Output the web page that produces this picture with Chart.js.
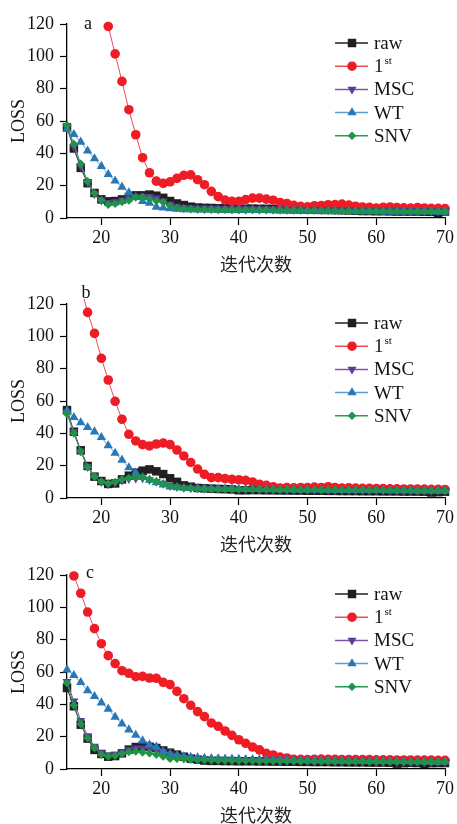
<!DOCTYPE html>
<html>
<head>
<meta charset="utf-8">
<script src="https://cdn.jsdelivr.net/npm/chart.js@4/dist/chart.umd.min.js"></script>
<style>
  html, body { margin: 0; padding: 0; background: #fff; }
  #page { position: relative; width: 457px; height: 824px; overflow: hidden; }
  .panel { position: absolute; left: 0; width: 457px; height: 275px; }
</style>
</head>
<body>
<div id="page">
  <div class="panel" style="top:0px"><canvas id="chartA" width="457" height="275"></canvas></div>
  <div class="panel" style="top:280px"><canvas id="chartB" width="457" height="275"></canvas></div>
  <div class="panel" style="top:551px"><canvas id="chartC" width="457" height="275"></canvas></div>
</div>
<script>
"use strict";

// iterations on the x axis
let epochs = [15, 16, 17, 18, 19, 20, 21, 22, 23, 24,
  25, 26, 27, 28, 29, 30, 31, 32, 33, 34,
  35, 36, 37, 38, 39, 40, 41, 42, 43, 44,
  45, 46, 47, 48, 49, 50, 51, 52, 53, 54,
  55, 56, 57, 58, 59, 60, 61, 62, 63, 64,
  65, 66, 67, 68, 69, 70];
let seriesNames = ["raw", "1st", "MSC", "WT", "SNV"];
let xTicks = [20, 30, 40, 50, 60, 70];
let yTicks = [0, 20, 40, 60, 80, 100, 120];

// panel a
let rawA = [56, 43, 31, 21.5, 15.5, 11.5, 10.3, 10.5, 11.5, 13,
  14, 14, 14.5, 13.8, 12.5, 10.5, 9, 8, 7, 6.5,
  6.3, 6.2, 6, 6, 6, 5.8, 5.8, 5.8, 5.7, 5.7,
  5.6, 5.5, 5.5, 5.4, 5.3, 5.2, 5.1, 5, 5, 4.9,
  4.8, 4.7, 4.5, 4.3, 4.3, 4.2, 4.2, 4.1, 4, 4,
  4, 4, 3.9, 3.8, 3.2, 4];
let firstA = [null, null, null, null, null, null, 118.5, 101.5, 84.5, 67,
  51.5, 37.3, 28, 22.8, 21.4, 22.4, 24.5, 26.4, 26.7, 23.7,
  20.6, 16.5, 13.2, 11.1, 10.3, 10.3, 11.4, 12.3, 12.3, 11.7,
  11, 9.6, 9, 7.8, 7.2, 6.9, 7.6, 7.7, 8.2, 8.3,
  8.6, 8, 7.3, 6.8, 6.6, 6.2, 6.6, 6.8, 6.5, 6.3,
  6.1, 6.5, 6.2, 6, 6, 5.8];
let mscA = [56, 44, 32, 22, 15, 11, 9.5, 10, 11, 12.5,
  13.2, 13.4, 13.2, 12.3, 10.5, 8.5, 7.2, 6.5, 6.2, 6,
  6, 5.9, 5.8, 5.8, 5.7, 5.7, 5.6, 5.6, 5.5, 5.5,
  5.5, 5.4, 5.4, 5.3, 5.3, 5.2, 5.2, 5.1, 5.1, 5,
  5, 5, 4.9, 4.9, 4.8, 4.8, 4.8, 4.7, 4.7, 4.7,
  4.6, 4.6, 4.6, 4.5, 4.5, 4.5];
let wtA = [55, 51.7, 47, 41.5, 36.7, 32, 27, 23, 19.2, 15.7,
  12.8, 10.4, 9.2, 6.8, 6.3, 5.8, 5.5, 5.3, 5.2, 5.1,
  5, 5, 5, 4.9, 4.9, 4.9, 4.8, 4.8, 4.8, 4.7,
  4.7, 4.6, 4.6, 4.5, 4.5, 4.4, 4.4, 4.3, 4.2, 4.2,
  4.1, 4.1, 4, 4, 4, 4, 3.9, 3.9, 3.9, 3.9,
  3.8, 3.8, 3.8, 3.8, 3.7, 3.7];
let snvA = [57.3, 45.8, 33.5, 22.7, 15.3, 11, 8.3, 8.8, 10, 10.9,
  12.8, 13, 11.8, 10.5, 9.8, 7.6, 6.2, 5.8, 5.5, 5.3,
  5.2, 5.1, 5, 5.1, 5, 5, 4.9, 5, 4.9, 4.9,
  4.8, 4.8, 4.7, 4.7, 4.7, 4.6, 4.6, 4.6, 4.5, 4.5,
  4.4, 4.4, 4.4, 4.4, 4.3, 4.3, 4.3, 4.3, 4.2, 4.2,
  4.2, 4.2, 4.1, 4.1, 4.1, 4.1];

// panel b
let rawB = [54.4, 41, 29.5, 19.8, 13.2, 10.5, 8.7, 9, 11.5, 13.8,
  15.7, 16.9, 17.7, 16.5, 14.8, 12.2, 10, 7.8, 7, 6.2,
  6, 5.8, 5.6, 5.5, 5.3, 4.8, 4.8, 4.9, 4.9, 4.8,
  4.8, 4.7, 4.7, 4.6, 4.6, 4.5, 4.5, 4.5, 4.4, 4.4,
  4.3, 4.3, 4.3, 4.2, 4.2, 4.2, 4.1, 4.1, 4.1, 4,
  4, 4, 3.9, 3.4, 3.6, 3.9];
let firstB = [null, null, 131, 114.8, 101.8, 86.4, 73, 59.8, 48.7, 39.4,
  35.3, 33, 32.2, 33.4, 34, 33, 29.7, 26, 22, 17.9,
  14.6, 12.6, 12.6, 12, 11.5, 11.3, 10.9, 9.9, 8.5, 7.8,
  7, 6.2, 6.5, 6.3, 6.5, 6.4, 6.7, 6.5, 7, 6.4,
  6.2, 6.3, 6.1, 6, 6, 5.9, 5.8, 5.7, 5.7, 5.6,
  5.6, 5.5, 5.5, 5.4, 5.4, 5.3];
let mscB = [53, 41, 29, 19.5, 13.5, 10, 8.7, 9.5, 11, 11.8,
  12.2, 12.3, 11.3, 10.2, 9, 7.6, 7, 6.5, 6.2, 6,
  5.9, 5.8, 5.7, 5.6, 5.6, 5.5, 5.5, 5.4, 5.4, 5.3,
  5.3, 5.2, 5.2, 5.1, 5.1, 5.1, 5, 5, 5, 4.9,
  4.9, 4.9, 4.8, 4.8, 4.8, 4.7, 4.7, 4.7, 4.6, 4.6,
  4.6, 4.6, 4.5, 4.5, 4.5, 4.5];
let wtB = [54, 49.9, 46.6, 43.7, 41, 37.5, 32.4, 27.8, 23.5, 18.8,
  15.7, 12.8, 11.1, 9.5, 8.2, 7, 6.4, 6.1, 6, 5.9,
  5.8, 5.7, 5.7, 5.6, 5.6, 5.5, 5.5, 5.4, 5.4, 5.3,
  5.3, 5.2, 5.2, 5.1, 5.1, 5, 5, 5, 4.9, 4.9,
  4.9, 4.8, 4.8, 4.8, 4.7, 4.7, 4.7, 4.6, 4.6, 4.6,
  4.6, 4.5, 4.5, 4.5, 4.5, 4.4];
let snvB = [52, 40, 28.7, 19, 13.2, 10.1, 9, 9.9, 11.5, 12.4,
  13.2, 12.8, 11.5, 10.3, 9, 7.4, 7, 6.2, 6, 5.8,
  5.7, 5.6, 5.5, 5.5, 5.5, 5.4, 5.5, 5.4, 5.3, 5.3,
  5.3, 5.2, 5.2, 5.2, 5.1, 5.1, 5.1, 5, 5, 5,
  4.9, 4.9, 4.9, 4.9, 4.8, 4.8, 4.8, 4.8, 4.7, 4.7,
  4.7, 4.7, 4.6, 4.6, 4.6, 4.6];

// panel c
let rawC = [50.1, 38.8, 27.4, 18.8, 11.8, 9.3, 7.6, 8, 9.7, 12,
  13.6, 14.4, 13.8, 13, 11.5, 10.1, 8.9, 7.6, 6.4, 5.8,
  5.2, 5, 5, 4.9, 4.9, 4.8, 4.8, 4.8, 4.7, 4.7,
  4.6, 4.6, 4.5, 4.5, 4.4, 4.4, 4.3, 4.3, 4.3, 4.2,
  4.2, 4.1, 4.1, 4.1, 4, 4, 4, 3.9, 3.3, 3.6,
  3.8, 3.7, 3.2, 3.6, 3.7, 3.7];
let firstC = [null, 119.4, 108.7, 97.1, 86.8, 77.5, 70.1, 65.2, 60.8, 59.2,
  57.1, 57.3, 56.3, 56.1, 53.6, 52.2, 48, 43.5, 39.4, 35.5,
  32.4, 28.5, 26.4, 23.5, 20.8, 18.1, 15.9, 13.6, 11.8, 9.7,
  8.7, 7.4, 6.8, 6, 6, 5.9, 6, 6.1, 6, 6,
  5.9, 5.9, 5.8, 5.8, 5.8, 5.7, 5.7, 5.7, 5.6, 5.6,
  5.6, 5.5, 5.5, 5.5, 5.4, 5.4];
let mscC = [54, 42, 30, 20.5, 14, 10, 8.5, 9, 10.5, 12,
  13, 13, 12.5, 11.5, 10.5, 9, 8, 7, 6.5, 6.2,
  6, 5.8, 5.7, 5.6, 5.5, 5.4, 5.4, 5.3, 5.3, 5.2,
  5.2, 5.1, 5.1, 5, 5, 5, 4.9, 4.9, 4.9, 4.8,
  4.8, 4.8, 4.7, 4.7, 4.7, 4.6, 4.6, 4.6, 4.5, 4.5,
  4.5, 4.5, 4.4, 4.4, 4.4, 4.4];
let wtC = [61.4, 57.9, 53.6, 48.5, 44.9, 41, 37.1, 32.2, 28, 24.3,
  21, 17.5, 15, 13.6, 10.9, 9.3, 8.5, 7.8, 7.4, 7,
  6.7, 6.5, 6.4, 6.3, 6.2, 6.1, 6, 6, 5.9, 5.9,
  5.8, 5.7, 5.6, 5.5, 5.4, 5.3, 5.2, 5.2, 5.1, 5.1,
  5, 5, 4.9, 4.9, 4.8, 4.8, 4.8, 4.7, 4.7, 4.7,
  4.6, 4.6, 4.6, 4.5, 4.5, 4.5];
let snvC = [53.2, 39.4, 27.8, 19.2, 13, 8.9, 7.8, 8.2, 9.5, 10.5,
  10.9, 10.3, 9.7, 8.9, 7.8, 6.4, 6.4, 6.2, 5.8, 5.6,
  5.5, 5.4, 5.3, 5.2, 5.2, 5.1, 5.1, 5, 5, 5,
  4.9, 4.9, 4.9, 4.8, 4.8, 4.8, 4.7, 4.7, 4.7, 4.7,
  4.6, 4.6, 4.6, 4.6, 4.5, 4.5, 4.5, 4.5, 4.5, 4.4,
  4.4, 4.4, 4.4, 4.4, 4.3, 4.3];

// marker / line look per series
let lineColors = ["#231f20", "#f04a52", "#7a55a8", "#5c9dd2", "#2a9a55"];
let markerColors = ["#231f20", "#ee1c25", "#5b3a96", "#2878b8", "#1f9448"];
let markerStyles = ["rect", "circle", "triangle", "triangle", "rectRot"];
let markerSizes = [6, 4.8, 5.2, 5.4, 4.3];
let markerTurns = [0, 0, 180, 0, 0];

const serif = "'Liberation Serif', 'Times New Roman', serif";

function makeDatasets(seriesList) {
  return seriesList.map(function(values, i) {
    return {
      label: seriesNames[i],
      data: values.map(function(v, k) { return { x: epochs[k], y: v }; }),
      borderColor: lineColors[i],
      borderWidth: 1,
      backgroundColor: markerColors[i],
      pointBackgroundColor: markerColors[i],
      pointBorderWidth: 0,
      pointStyle: markerStyles[i],
      pointRadius: markerSizes[i],
      pointRotation: markerTurns[i],
      tension: 0,
      spanGaps: false,
      // a few px of room so top/right markers aren't cut
      clip: { left: 6, top: 5, right: 6, bottom: 6 },
      order: 5 - i
    };
  });
}

// small fallback in case helpers aren't exposed
function drawMarker(ctx, style, r, rot, x, y) {
  if (window.Chart && Chart.helpers && Chart.helpers.drawPoint) {
    Chart.helpers.drawPoint(ctx, { pointStyle: style, radius: r, rotation: rot, borderWidth: 0 }, x, y);
    return;
  }
  ctx.beginPath();
  ctx.arc(x, y, r, 0, Math.PI * 2);
  ctx.fill();
}

// legend drawn inside the plot, line + marker like the original
const insideLegend = {
  id: "insideLegend",
  afterDraw(chart) {
    const ctx = chart.ctx;
    const top = chart.chartArea.top + 19;
    chart.data.datasets.forEach(function(ds, i) {
      const y = top + i * 23.2;
      ctx.save();
      ctx.strokeStyle = ds.borderColor;
      ctx.lineWidth = 1.5;
      ctx.beginPath();
      ctx.moveTo(335, y);
      ctx.lineTo(368, y);
      ctx.stroke();
      ctx.fillStyle = ds.pointBackgroundColor;
      drawMarker(ctx, ds.pointStyle, ds.pointRadius, ds.pointRotation, 352, y);
      ctx.fillStyle = "#111";
      ctx.textAlign = "left";
      ctx.textBaseline = "middle";
      ctx.font = "19px " + serif;
      let m = /^(\d+)(st|nd|rd|th)$/.exec(ds.label);
      if (m) {
        ctx.fillText(m[1], 374, y + 1);
        let w = ctx.measureText(m[1]).width;
        ctx.font = "11px " + serif;
        ctx.fillText(m[2], 374 + w + 1, y - 5);
      } else {
        ctx.fillText(ds.label, 374, y + 1);
      }
      ctx.restore();
    });
  }
};

const panelTag = {
  id: "panelTag",
  afterDraw(chart, args, opts) {
    const ctx = chart.ctx;
    ctx.save();
    ctx.fillStyle = "#111";
    ctx.font = "18px " + serif;
    ctx.textAlign = "center";
    ctx.textBaseline = "middle";
    ctx.fillText(opts.text, opts.x, opts.y);
    ctx.restore();
  }
};

function drawPanel(canvasId, seriesList, tag) {
  new Chart(document.getElementById(canvasId), {
    type: "line",
    data: { datasets: makeDatasets(seriesList) },
    plugins: [insideLegend, panelTag],
    options: {
      responsive: false,
      animation: false,
      events: [],
      layout: { padding: { top: 24, right: 12, left: 0, bottom: 0 } },
      plugins: {
        legend: { display: false },
        tooltip: { enabled: false },
        panelTag: tag
      },
      scales: {
        x: {
          type: "linear",
          min: 15,
          max: 70,
          afterBuildTicks: function(scale) {
            scale.ticks = xTicks.map(function(v) { return { value: v }; });
          },
          afterFit: function(scale) { scale.height = 57; },
          grid: { drawOnChartArea: false, drawTicks: true, tickLength: 7, tickColor: "#000", tickWidth: 1.2 },
          border: { display: true, color: "#000", width: 1.3 },
          ticks: { color: "#111", padding: 2, maxRotation: 0, font: { family: serif, size: 18 } },
          title: {
            display: true,
            text: "迭代次数",
            color: "#222",
            padding: { top: 0, bottom: 0 },
            font: { family: "'Noto Sans CJK SC', sans-serif", size: 18 }
          }
        },
        y: {
          min: 0,
          max: 120,
          afterBuildTicks: function(scale) {
            scale.ticks = yTicks.map(function(v) { return { value: v }; });
          },
          afterFit: function(scale) { scale.width = 67; },
          grid: { drawOnChartArea: false, drawTicks: true, tickLength: 7, tickColor: "#000", tickWidth: 1.2 },
          border: { display: true, color: "#000", width: 1.3 },
          ticks: { color: "#111", padding: 6, font: { family: serif, size: 18 } },
          title: {
            display: true,
            text: "LOSS",
            color: "#111",
            padding: { top: 8, bottom: 0 },
            font: { family: serif, size: 18 }
          }
        }
      }
    }
  });
}

drawPanel("chartA", [rawA, firstA, mscA, wtA, snvA], { text: "a", x: 88, y: 24 });
drawPanel("chartB", [rawB, firstB, mscB, wtB, snvB], { text: "b", x: 86, y: 13 });
drawPanel("chartC", [rawC, firstC, mscC, wtC, snvC], { text: "c", x: 90, y: 22 });
</script>
</body>
</html>
